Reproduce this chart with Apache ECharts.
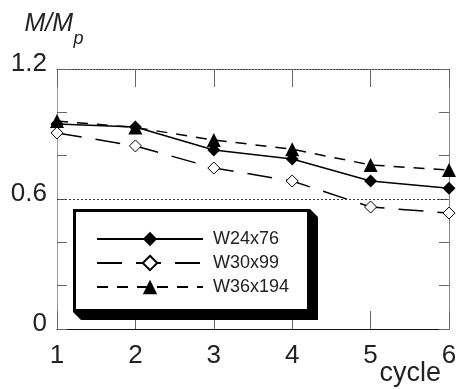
<!DOCTYPE html>
<html>
<head>
<meta charset="utf-8">
<script src="https://cdn.jsdelivr.net/npm/echarts@6/dist/echarts.min.js"></script>
<style>
  html, body { margin: 0; padding: 0; background: #fff; }
  #chart { width: 458px; height: 389px; }
</style>
</head>
<body>
<div id="chart"></div>
<script>
// cycles on the x axis
const cycles = [1, 2, 3, 4, 5, 6];
// M/Mp
const w24x76 = [0.946, 0.932, 0.826, 0.785, 0.683, 0.650];
const w30x99 = [0.905, 0.845, 0.743, 0.683, 0.563, 0.535];
const w36x194 = [0.960, 0.930, 0.872, 0.830, 0.757, 0.734];
const seriesNames = ['W24x76', 'W30x99', 'W36x194'];
// only these y ticks carry a label
const yTickLabels = ['0', '0.6', '1.2'];
const refLevel = 0.6;

const font = '"Liberation Sans", Arial, sans-serif';
const chart = echarts.init(document.getElementById('chart'));

const pairs = (ys) => cycles.map((x, i) => [x, ys[i]]);

// legend frame with the bevelled drop shadow
const box = { x: 73, y: 209, w: 237, h: 103, off: 8 };

const option = {
  animation: false,
  backgroundColor: '#fff',
  grid: { left: 57, right: 9, top: 69, bottom: 60, outerBoundsMode: 'none' },
  graphic: [
    {
      type: 'polygon',
      z: 5,
      silent: true,
      shape: {
        points: [
          [box.x, box.y],
          [box.x + box.w, box.y],
          [box.x + box.w + box.off, box.y + box.off],
          [box.x + box.w + box.off, box.y + box.h + box.off],
          [box.x + box.off, box.y + box.h + box.off],
          [box.x, box.y + box.h],
        ],
      },
      style: { fill: '#000' },
    },
    {
      type: 'rect',
      z: 5,
      silent: true,
      shape: { x: box.x + 1.5, y: box.y + 1.5, width: box.w - 3, height: box.h - 3 },
      style: { fill: '#fff', stroke: '#000', lineWidth: 3 },
    },
  ],
  legend: {
    orient: 'vertical',
    left: 73,
    top: 209,
    z: 6,
    padding: [21, 20, 10, 23],
    itemWidth: 106,
    itemHeight: 18,
    itemGap: 6,
    data: seriesNames,
    textStyle: { fontFamily: font, fontSize: 18, color: '#222', lineHeight: 18, padding: [0, 0, 0, 5] },
  },
  xAxis: [
    {
      type: 'value',
      position: 'bottom',
      min: 1,
      max: 6,
      interval: 1,
      name: 'cycle',
      nameLocation: 'end',
      nameGap: -8,
      nameMoveOverlap: false,
      nameTextStyle: {
        fontFamily: font, fontSize: 27, color: '#222',
        align: 'right', verticalAlign: 'top', padding: [31, 0, 0, 0],
      },
      axisLine: { onZero: false, lineStyle: { color: '#111', width: 1 } },
      axisTick: { inside: true, length: 18, lineStyle: { color: '#666' } },
      axisLabel: { fontFamily: font, fontSize: 26, color: '#222', margin: 14 },
      splitLine: { show: false },
    },
    {
      type: 'value',
      position: 'top',
      min: 1,
      max: 6,
      interval: 1,
      axisLine: { onZero: false, lineStyle: { color: '#444', width: 1, type: [2, 1] } },
      axisTick: { inside: true, length: 18, lineStyle: { color: '#666' } },
      axisLabel: { show: false },
      splitLine: { show: false },
    },
  ],
  yAxis: [
    {
      type: 'value',
      position: 'left',
      min: 0,
      max: 1.2,
      interval: 0.2,
      name: '{m|M/M}\n{p|p}',
      nameLocation: 'end',
      nameGap: 25,
      nameMoveOverlap: false,
      nameTextStyle: {
        align: 'center',
        verticalAlign: 'bottom',
        padding: [0, 6, 0, 0],
        rich: {
          m: { fontFamily: font, fontSize: 25, fontStyle: 'italic', color: '#222', lineHeight: 20, align: 'left' },
          p: { fontFamily: font, fontSize: 18, fontStyle: 'italic', color: '#222', lineHeight: 10, align: 'left', padding: [0, 0, 0, 49] },
        },
      },
      axisLine: { onZero: false, lineStyle: { color: '#999', width: 1 } },
      axisTick: { inside: true, length: 10, lineStyle: { color: '#666' } },
      axisLabel: {
        fontFamily: font,
        fontSize: 26,
        color: '#222',
        margin: 10,
        verticalAlign: 'bottom',
        padding: [0, 0, -8, 0],
        formatter: (v) => {
          const s = String(Math.round(v * 10) / 10);
          return yTickLabels.includes(s) ? s : '';
        },
      },
      splitLine: { show: false },
    },
    {
      type: 'value',
      position: 'right',
      min: 0,
      max: 1.2,
      interval: 0.2,
      axisLine: { onZero: false, lineStyle: { color: '#888', width: 1 } },
      axisTick: { inside: true, length: 10, lineStyle: { color: '#666' } },
      axisLabel: { show: false },
      splitLine: { show: false },
    },
  ],
  series: [
    {
      name: seriesNames[0],
      type: 'line',
      data: pairs(w24x76),
      symbol: 'diamond',
      symbolSize: 13,
      itemStyle: { color: '#000' },
      lineStyle: { color: '#000', width: 1.5 },
      z: 3,
      markLine: {
        silent: true,
        symbol: 'none',
        label: { show: false },
        lineStyle: { color: '#333', width: 1, type: [2, 2] },
        data: [{ yAxis: refLevel }],
      },
    },
    {
      name: seriesNames[1],
      type: 'line',
      data: pairs(w30x99),
      symbol: 'diamond',
      symbolSize: 12,
      itemStyle: { color: '#fff', borderColor: '#000', borderWidth: 1 },
      lineStyle: { color: '#000', width: 1.5, type: [25, 14] },
      z: 3,
    },
    {
      name: seriesNames[2],
      type: 'line',
      data: pairs(w36x194),
      symbol: 'triangle',
      symbolSize: 14,
      itemStyle: { color: '#000' },
      lineStyle: { color: '#000', width: 1.5, type: [11, 9] },
      z: 3,
    },
  ],
};

chart.setOption(option);
</script>
</body>
</html>
